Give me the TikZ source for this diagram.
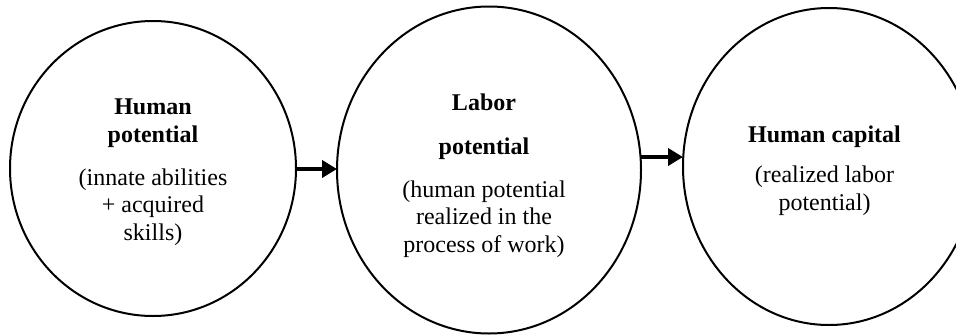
\documentclass[tikz,border=0pt]{standalone}
\usepackage{fontspec}
\setmainfont{Liberation Serif}
\usetikzlibrary{shapes.geometric,arrows.meta}
\tikzset{
  bubble/.style={draw=black, line width=2pt, ellipse, inner sep=0pt, outer sep=0pt},
  label/.style={align=center, anchor=base, inner sep=0pt, font=\fontsize{24}{27.5}\selectfont},
  flow/.style={line width=4.5pt, -{Triangle[length=15pt,width=17pt]}}
}
\begin{document}
\begin{tikzpicture}[x=1pt,y=-1pt]
\useasboundingbox (0,0) rectangle (956,335);
\clip (0,0) rectangle (956,335);
\node[bubble, minimum width=286pt, minimum height=295pt] (c1) at (153,168.5) {};
\node[bubble, minimum width=304pt, minimum height=327pt] (c2) at (489,170) {};
\node[bubble, minimum width=292pt, minimum height=317pt] (c3) at (829,166.5) {};
\node[label] (t1) at (153,240) {\textbf{Human}\\\textbf{potential}\\[15.5pt](innate abilities\\+ acquired\\skills)};
\node[label] (t2) at (484,252) {\textbf{Labor}\\[16.5pt]\textbf{potential}\\[15.5pt](human potential\\realized in the\\process of work)};
\node[label] (t3) at (824.5,210) {\textbf{Human capital}\\[12.5pt](realized labor\\potential)};
\coordinate (y1) at (0,169);
\coordinate (y2) at (0,157);
\draw[flow] (c1.east |- y1) -- (c2.west |- y1);
\draw[flow] (c2.east |- y2) -- (c3.west |- y2);
\end{tikzpicture}
\end{document}
